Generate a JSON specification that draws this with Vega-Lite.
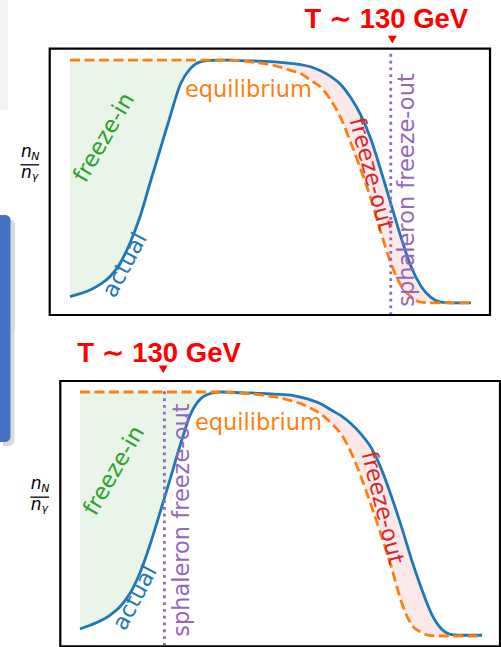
{
  "$schema": "https://vega.github.io/schema/vega-lite/v6.json",
  "padding": 0,
  "spacing": 0,
  "bounds": "flush",
  "background": "white",
  "config": {"view": {"stroke": null}},
  "datasets": {
    "top": [{"x":0,"a":0.026,"e":1},{"x":2.5,"a":0.038,"e":1},{"x":5,"a":0.053,"e":1},{"x":7.5,"a":0.076,"e":1},{"x":10,"a":0.109,"e":1},{"x":12.5,"a":0.164,"e":1},{"x":15,"a":0.248,"e":1},{"x":17.5,"a":0.357,"e":1},{"x":20,"a":0.496,"e":1},{"x":22.5,"a":0.633,"e":1},{"x":25,"a":0.77,"e":1},{"x":27.5,"a":0.9,"e":1},{"x":30,"a":0.965,"e":1},{"x":32.5,"a":0.993,"e":1},{"x":35,"a":0.999,"e":1},{"x":37.5,"a":1,"e":1},{"x":40,"a":1,"e":1},{"x":42.5,"a":0.998,"e":0.997},{"x":45,"a":0.997,"e":0.993},{"x":47.5,"a":0.996,"e":0.988},{"x":50,"a":0.994,"e":0.982},{"x":52.5,"a":0.991,"e":0.971},{"x":55,"a":0.987,"e":0.958},{"x":57.5,"a":0.982,"e":0.945},{"x":60,"a":0.973,"e":0.917},{"x":62.5,"a":0.956,"e":0.889},{"x":65,"a":0.933,"e":0.837},{"x":67.5,"a":0.9,"e":0.763},{"x":70,"a":0.846,"e":0.661},{"x":72.5,"a":0.775,"e":0.551},{"x":75,"a":0.676,"e":0.431},{"x":77.5,"a":0.547,"e":0.293},{"x":80,"a":0.41,"e":0.165},{"x":82.5,"a":0.273,"e":0.073},{"x":85,"a":0.152,"e":0.026},{"x":87.5,"a":0.07,"e":0.003},{"x":90,"a":0.023,"e":0},{"x":92.5,"a":0.003,"e":0},{"x":95,"a":0,"e":0},{"x":100,"a":0,"e":0}],
    "bot": [{"x":0,"a":0.029,"e":1},{"x":2.5,"a":0.044,"e":1},{"x":5,"a":0.061,"e":1},{"x":7.5,"a":0.086,"e":1},{"x":10,"a":0.121,"e":1},{"x":12.5,"a":0.176,"e":1},{"x":15,"a":0.262,"e":1},{"x":17.5,"a":0.378,"e":1},{"x":20,"a":0.511,"e":1},{"x":22.5,"a":0.647,"e":1},{"x":25,"a":0.786,"e":1},{"x":27.5,"a":0.909,"e":1},{"x":30,"a":0.972,"e":1},{"x":32.5,"a":0.994,"e":1},{"x":35,"a":1,"e":1},{"x":37.5,"a":0.999,"e":0.998},{"x":40,"a":0.997,"e":0.995},{"x":42.5,"a":0.996,"e":0.992},{"x":45,"a":0.994,"e":0.988},{"x":47.5,"a":0.992,"e":0.982},{"x":50,"a":0.99,"e":0.975},{"x":52.5,"a":0.987,"e":0.964},{"x":55,"a":0.978,"e":0.952},{"x":57.5,"a":0.967,"e":0.932},{"x":60,"a":0.951,"e":0.909},{"x":62.5,"a":0.926,"e":0.872},{"x":65,"a":0.902,"e":0.826},{"x":67.5,"a":0.869,"e":0.75},{"x":70,"a":0.826,"e":0.648},{"x":72.5,"a":0.77,"e":0.532},{"x":75,"a":0.683,"e":0.409},{"x":77.5,"a":0.571,"e":0.28},{"x":80,"a":0.446,"e":0.138},{"x":82.5,"a":0.312,"e":0.045},{"x":85,"a":0.192,"e":0.014},{"x":87.5,"a":0.089,"e":0.001},{"x":90,"a":0.028,"e":0},{"x":92.5,"a":0.006,"e":0},{"x":95,"a":0.003,"e":0},{"x":100,"a":0.003,"e":0}],
    "topLab": [
      {"id":"eq","x":44.5,"y":0.848,"t":"equilibrium"},
      {"id":"fin","x":8.5,"y":0.681,"t":"freeze-in"},
      {"id":"act","x":13.7,"y":0.156,"t":"actual"},
      {"id":"fout","x":75.1,"y":0.531,"t":"freeze-out"},
      {"id":"sph","x":85.8,"y":0.465,"t":"sphaleron freeze-out"},
      {"id":"T","x":78.9,"y":1.131,"t":"T ∼ 130 GeV"},
      {"id":"tri","x":80.4,"y":1.085,"t":""},
      {"id":"line","x":80,"y":-0.05,"y2":1.03,"t":""}
    ],
    "botLab": [
      {"id":"eq","x":44.4,"y":0.844,"t":"equilibrium"},
      {"id":"fin","x":8.5,"y":0.678,"t":"freeze-in"},
      {"id":"act","x":13.7,"y":0.156,"t":"actual"},
      {"id":"fout","x":75.2,"y":0.525,"t":"freeze-out"},
      {"id":"sph","x":27.2,"y":0.475,"t":"sphaleron freeze-out"},
      {"id":"T","x":19.65,"y":1.124,"t":"T ∼ 130 GeV"},
      {"id":"tri","x":20.7,"y":1.093,"t":""},
      {"id":"line","x":21,"y":-0.04,"y2":1.02,"t":""}
    ],
    "frac": [
      {"id":"big","x":-12.25,"y":0.601,"t":"n"},
      {"id":"sub","x":-9.65,"y":0.589,"t":"N"},
      {"id":"big","x":-12.25,"y":0.516,"t":"n"},
      {"id":"sub","x":-9.55,"y":0.507,"t":"γ"}
    ],
    "fracLine": [{"x":-12.35,"x2":-7.7,"y":0.569}]
  },
  "resolve": {"scale": {"x": "independent", "y": "independent"}},
  "vconcat": [
    {
      "width": 501,
      "height": 330,
      "encoding": {
        "x": {"field": "x", "type": "quantitative", "scale": {"domain": [-17.46, 107.49], "nice": false, "zero": false}, "axis": null}
      },
      "layer": [
        {"data": {"values": [{"x": -17.46, "x2": -15.46, "y": 0.795, "y2": 1.2479}]},
         "mark": {"type": "rect", "fill": "#f3f3f3"},
         "encoding": {"x2": {"field": "x2"}, "y": {"field": "y", "type": "quantitative", "scale": {"domain": [-0.1116, 1.2479], "nice": false, "zero": false}, "axis": null}, "y2": {"field": "y2"}}},
        {"data": {"values": [{"x": -16.7, "x2": -13.7, "y": -0.1116, "y2": 0.345}]},
         "mark": {"type": "rect", "fill": "#000000", "opacity": 0.15, "cornerRadiusTopRight": 8},
         "encoding": {"x2": {"field": "x2"}, "y": {"field": "y", "type": "quantitative", "scale": {"domain": [-0.1116, 1.2479], "nice": false, "zero": false}, "axis": null}, "y2": {"field": "y2"}}},
        {"data": {"values": [{"x": -17.46, "x2": -14.84, "y": -0.1116, "y2": 0.362}]},
         "mark": {"type": "rect", "fill": "#4472C4", "cornerRadiusTopRight": 8},
         "encoding": {"x2": {"field": "x2"}, "y": {"field": "y", "type": "quantitative", "scale": {"domain": [-0.1116, 1.2479], "nice": false, "zero": false}, "axis": null}, "y2": {"field": "y2"}}},
        {"data": {"name": "top"}, "transform": [{"filter": "datum.x <= 37.5"}],
         "mark": {"type": "area", "color": "#2ca02c", "opacity": 0.1, "interpolate": "monotone"},
         "encoding": {"y": {"field": "a", "type": "quantitative", "scale": {"domain": [-0.1116, 1.2479], "nice": false, "zero": false}, "axis": null}, "y2": {"field": "e"}}},
        {"data": {"name": "top"}, "transform": [{"filter": "datum.x >= 40"}],
         "mark": {"type": "area", "color": "#d62728", "opacity": 0.1, "interpolate": "monotone"},
         "encoding": {"y": {"field": "e", "type": "quantitative", "scale": {"domain": [-0.1116, 1.2479], "nice": false, "zero": false}, "axis": null}, "y2": {"field": "a"}}},
        {"data": {"name": "top"},
         "mark": {"type": "line", "color": "#1f77b4", "strokeWidth": 2.8, "interpolate": "monotone"},
         "encoding": {"y": {"field": "a", "type": "quantitative", "scale": {"domain": [-0.1116, 1.2479], "nice": false, "zero": false}, "axis": null}}},
        {"data": {"name": "top"},
         "mark": {"type": "line", "color": "#ff7f0e", "strokeWidth": 2.8, "strokeDash": [10, 4.5], "interpolate": "monotone"},
         "encoding": {"y": {"field": "e", "type": "quantitative", "scale": {"domain": [-0.1116, 1.2479], "nice": false, "zero": false}, "axis": null}}},
        {"data": {"name": "topLab"}, "transform": [{"filter": "datum.id === 'line'"}],
         "mark": {"type": "rule", "color": "#9467bd", "strokeWidth": 2.8, "strokeDash": [2.8, 4]},
         "encoding": {"y": {"field": "y", "type": "quantitative", "scale": {"domain": [-0.1116, 1.2479], "nice": false, "zero": false}, "axis": null}, "y2": {"field": "y2"}}},
        {"data": {"values": [{"x": -5.06, "x2": 104.75, "y": -0.0498, "y2": 1.0473}]},
         "mark": {"type": "rect", "fillOpacity": 0, "stroke": "#000000", "strokeWidth": 2.2},
         "encoding": {"x2": {"field": "x2"}, "y": {"field": "y", "type": "quantitative", "scale": {"domain": [-0.1116, 1.2479], "nice": false, "zero": false}, "axis": null}, "y2": {"field": "y2"}}},
        {"data": {"name": "topLab"}, "transform": [{"filter": "datum.id === 'eq'"}],
         "mark": {"type": "text", "font": "DejaVu Sans", "fontSize": 22.5, "color": "#ff7f0e", "align": "center", "baseline": "alphabetic"},
         "encoding": {"y": {"field": "y", "type": "quantitative", "scale": {"domain": [-0.1116, 1.2479], "nice": false, "zero": false}, "axis": null}, "text": {"field": "t"}}},
        {"data": {"name": "topLab"}, "transform": [{"filter": "datum.id === 'fin'"}],
         "mark": {"type": "text", "font": "DejaVu Sans", "fontSize": 22.5, "color": "#2ca02c", "align": "center", "baseline": "middle", "angle": -60},
         "encoding": {"y": {"field": "y", "type": "quantitative", "scale": {"domain": [-0.1116, 1.2479], "nice": false, "zero": false}, "axis": null}, "text": {"field": "t"}}},
        {"data": {"name": "topLab"}, "transform": [{"filter": "datum.id === 'act'"}],
         "mark": {"type": "text", "font": "DejaVu Sans", "fontSize": 22.5, "color": "#1f77b4", "align": "center", "baseline": "middle", "angle": -62},
         "encoding": {"y": {"field": "y", "type": "quantitative", "scale": {"domain": [-0.1116, 1.2479], "nice": false, "zero": false}, "axis": null}, "text": {"field": "t"}}},
        {"data": {"name": "topLab"}, "transform": [{"filter": "datum.id === 'fout'"}],
         "mark": {"type": "text", "font": "DejaVu Sans", "fontSize": 22.5, "color": "#d62728", "align": "center", "baseline": "middle", "angle": 75},
         "encoding": {"y": {"field": "y", "type": "quantitative", "scale": {"domain": [-0.1116, 1.2479], "nice": false, "zero": false}, "axis": null}, "text": {"field": "t"}}},
        {"data": {"name": "topLab"}, "transform": [{"filter": "datum.id === 'sph'"}],
         "mark": {"type": "text", "font": "DejaVu Sans", "fontSize": 22.5, "color": "#9467bd", "align": "center", "baseline": "alphabetic", "angle": -90},
         "encoding": {"y": {"field": "y", "type": "quantitative", "scale": {"domain": [-0.1116, 1.2479], "nice": false, "zero": false}, "axis": null}, "text": {"field": "t"}}},
        {"data": {"name": "topLab"}, "transform": [{"filter": "datum.id === 'T'"}],
         "mark": {"type": "text", "font": "Liberation Sans, DejaVu Sans", "fontSize": 27.5, "fontWeight": "bold", "color": "#ff0000", "align": "center", "baseline": "alphabetic"},
         "encoding": {"y": {"field": "y", "type": "quantitative", "scale": {"domain": [-0.1116, 1.2479], "nice": false, "zero": false}, "axis": null}, "text": {"field": "t"}}},
        {"data": {"name": "topLab"}, "transform": [{"filter": "datum.id === 'tri'"}],
         "mark": {"type": "point", "shape": "triangle-down", "filled": true, "color": "#ff0000", "opacity": 1, "size": 80},
         "encoding": {"y": {"field": "y", "type": "quantitative", "scale": {"domain": [-0.1116, 1.2479], "nice": false, "zero": false}, "axis": null}}},
        {"data": {"name": "frac"}, "transform": [{"filter": "datum.id === 'big'"}],
         "mark": {"type": "text", "font": "DejaVu Sans", "fontSize": 17, "fontStyle": "italic", "color": "#000000", "align": "left", "baseline": "alphabetic"},
         "encoding": {"y": {"field": "y", "type": "quantitative", "scale": {"domain": [-0.1116, 1.2479], "nice": false, "zero": false}, "axis": null}, "text": {"field": "t"}}},
        {"data": {"name": "frac"}, "transform": [{"filter": "datum.id === 'sub'"}],
         "mark": {"type": "text", "font": "DejaVu Sans", "fontSize": 11, "fontStyle": "italic", "color": "#000000", "align": "left", "baseline": "alphabetic"},
         "encoding": {"y": {"field": "y", "type": "quantitative", "scale": {"domain": [-0.1116, 1.2479], "nice": false, "zero": false}, "axis": null}, "text": {"field": "t"}}},
        {"data": {"name": "fracLine"},
         "mark": {"type": "rule", "color": "#000000", "strokeWidth": 1.3},
         "encoding": {"x2": {"field": "x2"}, "y": {"field": "y", "type": "quantitative", "scale": {"domain": [-0.1116, 1.2479], "nice": false, "zero": false}, "axis": null}}}
      ]
    },
    {
      "width": 501,
      "height": 317,
      "encoding": {
        "x": {"field": "x", "type": "quantitative", "scale": {"domain": [-19.9, 104.73], "nice": false, "zero": false}, "axis": null}
      },
      "layer": [
        {"data": {"values": [{"x": -19.15, "x2": -16.3, "y": 0.779, "y2": 1.2541}]},
         "mark": {"type": "rect", "fill": "#000000", "opacity": 0.15, "cornerRadiusBottomRight": 8},
         "encoding": {"x2": {"field": "x2"}, "y": {"field": "y", "type": "quantitative", "scale": {"domain": [-0.0451, 1.2541], "nice": false, "zero": false}, "axis": null}, "y2": {"field": "y2"}}},
        {"data": {"values": [{"x": -19.9, "x2": -17.29, "y": 0.795, "y2": 1.2541}]},
         "mark": {"type": "rect", "fill": "#4472C4", "cornerRadiusBottomRight": 8},
         "encoding": {"x2": {"field": "x2"}, "y": {"field": "y", "type": "quantitative", "scale": {"domain": [-0.0451, 1.2541], "nice": false, "zero": false}, "axis": null}, "y2": {"field": "y2"}}},
        {"data": {"name": "bot"}, "transform": [{"filter": "datum.x <= 37.5"}],
         "mark": {"type": "area", "color": "#2ca02c", "opacity": 0.1, "interpolate": "monotone"},
         "encoding": {"y": {"field": "a", "type": "quantitative", "scale": {"domain": [-0.0451, 1.2541], "nice": false, "zero": false}, "axis": null}, "y2": {"field": "e"}}},
        {"data": {"name": "bot"}, "transform": [{"filter": "datum.x >= 37.5"}],
         "mark": {"type": "area", "color": "#d62728", "opacity": 0.1, "interpolate": "monotone"},
         "encoding": {"y": {"field": "e", "type": "quantitative", "scale": {"domain": [-0.0451, 1.2541], "nice": false, "zero": false}, "axis": null}, "y2": {"field": "a"}}},
        {"data": {"name": "bot"},
         "mark": {"type": "line", "color": "#1f77b4", "strokeWidth": 2.8, "interpolate": "monotone"},
         "encoding": {"y": {"field": "a", "type": "quantitative", "scale": {"domain": [-0.0451, 1.2541], "nice": false, "zero": false}, "axis": null}}},
        {"data": {"name": "bot"},
         "mark": {"type": "line", "color": "#ff7f0e", "strokeWidth": 2.8, "strokeDash": [10, 4.5], "interpolate": "monotone"},
         "encoding": {"y": {"field": "e", "type": "quantitative", "scale": {"domain": [-0.0451, 1.2541], "nice": false, "zero": false}, "axis": null}}},
        {"data": {"name": "botLab"}, "transform": [{"filter": "datum.id === 'line'"}],
         "mark": {"type": "rule", "color": "#9467bd", "strokeWidth": 2.8, "strokeDash": [2.8, 4]},
         "encoding": {"y": {"field": "y", "type": "quantitative", "scale": {"domain": [-0.0451, 1.2541], "nice": false, "zero": false}, "axis": null}, "y2": {"field": "y2"}}},
        {"data": {"values": [{"x": -4.9, "x2": 104.48, "y": -0.0422, "y2": 1.045}]},
         "mark": {"type": "rect", "fillOpacity": 0, "stroke": "#000000", "strokeWidth": 2.2},
         "encoding": {"x2": {"field": "x2"}, "y": {"field": "y", "type": "quantitative", "scale": {"domain": [-0.0451, 1.2541], "nice": false, "zero": false}, "axis": null}, "y2": {"field": "y2"}}},
        {"data": {"name": "botLab"}, "transform": [{"filter": "datum.id === 'eq'"}],
         "mark": {"type": "text", "font": "DejaVu Sans", "fontSize": 22.5, "color": "#ff7f0e", "align": "center", "baseline": "alphabetic"},
         "encoding": {"y": {"field": "y", "type": "quantitative", "scale": {"domain": [-0.0451, 1.2541], "nice": false, "zero": false}, "axis": null}, "text": {"field": "t"}}},
        {"data": {"name": "botLab"}, "transform": [{"filter": "datum.id === 'fin'"}],
         "mark": {"type": "text", "font": "DejaVu Sans", "fontSize": 22.5, "color": "#2ca02c", "align": "center", "baseline": "middle", "angle": -60},
         "encoding": {"y": {"field": "y", "type": "quantitative", "scale": {"domain": [-0.0451, 1.2541], "nice": false, "zero": false}, "axis": null}, "text": {"field": "t"}}},
        {"data": {"name": "botLab"}, "transform": [{"filter": "datum.id === 'act'"}],
         "mark": {"type": "text", "font": "DejaVu Sans", "fontSize": 22.5, "color": "#1f77b4", "align": "center", "baseline": "middle", "angle": -62},
         "encoding": {"y": {"field": "y", "type": "quantitative", "scale": {"domain": [-0.0451, 1.2541], "nice": false, "zero": false}, "axis": null}, "text": {"field": "t"}}},
        {"data": {"name": "botLab"}, "transform": [{"filter": "datum.id === 'fout'"}],
         "mark": {"type": "text", "font": "DejaVu Sans", "fontSize": 22.5, "color": "#d62728", "align": "center", "baseline": "middle", "angle": 76},
         "encoding": {"y": {"field": "y", "type": "quantitative", "scale": {"domain": [-0.0451, 1.2541], "nice": false, "zero": false}, "axis": null}, "text": {"field": "t"}}},
        {"data": {"name": "botLab"}, "transform": [{"filter": "datum.id === 'sph'"}],
         "mark": {"type": "text", "font": "DejaVu Sans", "fontSize": 22.5, "color": "#9467bd", "align": "center", "baseline": "alphabetic", "angle": -90},
         "encoding": {"y": {"field": "y", "type": "quantitative", "scale": {"domain": [-0.0451, 1.2541], "nice": false, "zero": false}, "axis": null}, "text": {"field": "t"}}},
        {"data": {"name": "botLab"}, "transform": [{"filter": "datum.id === 'T'"}],
         "mark": {"type": "text", "font": "Liberation Sans, DejaVu Sans", "fontSize": 27.5, "fontWeight": "bold", "color": "#ff0000", "align": "center", "baseline": "alphabetic"},
         "encoding": {"y": {"field": "y", "type": "quantitative", "scale": {"domain": [-0.0451, 1.2541], "nice": false, "zero": false}, "axis": null}, "text": {"field": "t"}}},
        {"data": {"name": "botLab"}, "transform": [{"filter": "datum.id === 'tri'"}],
         "mark": {"type": "point", "shape": "triangle-down", "filled": true, "color": "#ff0000", "opacity": 1, "size": 80},
         "encoding": {"y": {"field": "y", "type": "quantitative", "scale": {"domain": [-0.0451, 1.2541], "nice": false, "zero": false}, "axis": null}}},
        {"data": {"name": "frac"}, "transform": [{"filter": "datum.id === 'big'"}],
         "mark": {"type": "text", "font": "DejaVu Sans", "fontSize": 17, "fontStyle": "italic", "color": "#000000", "align": "left", "baseline": "alphabetic"},
         "encoding": {"y": {"field": "y", "type": "quantitative", "scale": {"domain": [-0.0451, 1.2541], "nice": false, "zero": false}, "axis": null}, "text": {"field": "t"}}},
        {"data": {"name": "frac"}, "transform": [{"filter": "datum.id === 'sub'"}],
         "mark": {"type": "text", "font": "DejaVu Sans", "fontSize": 11, "fontStyle": "italic", "color": "#000000", "align": "left", "baseline": "alphabetic"},
         "encoding": {"y": {"field": "y", "type": "quantitative", "scale": {"domain": [-0.0451, 1.2541], "nice": false, "zero": false}, "axis": null}, "text": {"field": "t"}}},
        {"data": {"name": "fracLine"},
         "mark": {"type": "rule", "color": "#000000", "strokeWidth": 1.3},
         "encoding": {"x2": {"field": "x2"}, "y": {"field": "y", "type": "quantitative", "scale": {"domain": [-0.0451, 1.2541], "nice": false, "zero": false}, "axis": null}}}
      ]
    }
  ]
}
